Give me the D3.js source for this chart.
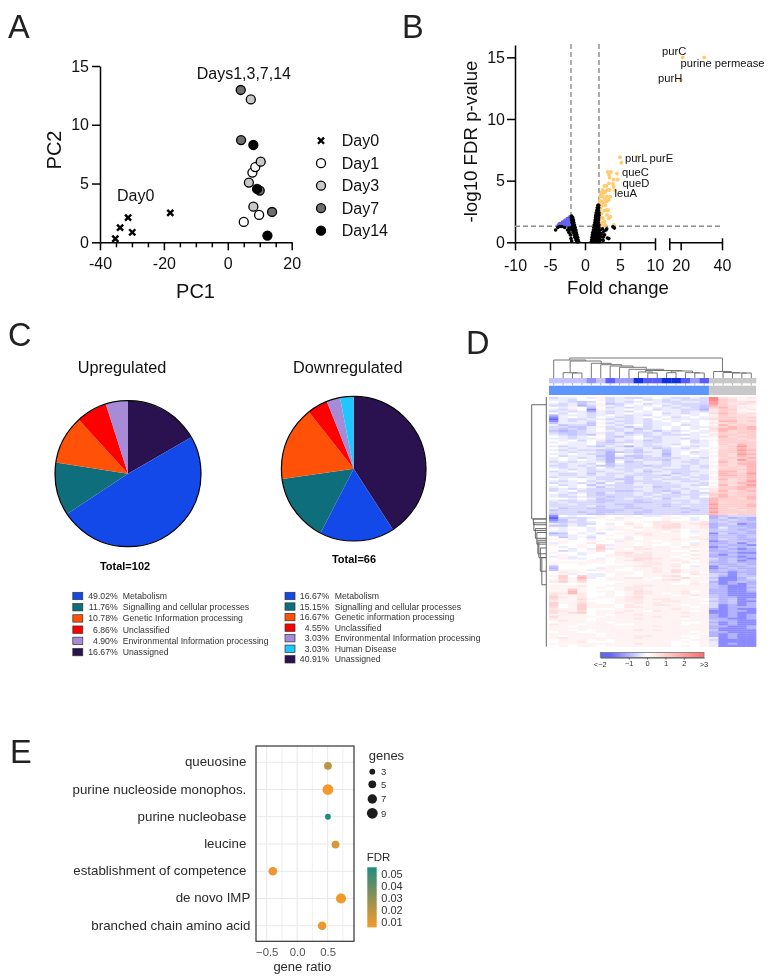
<!DOCTYPE html>
<html><head><meta charset="utf-8">
<script src="https://cdn.jsdelivr.net/npm/d3@7/dist/d3.min.js"></script>
<style>html,body{margin:0;padding:0;background:#fff}svg{display:block;filter:blur(.3px)}text{font-family:"Liberation Sans",Arial,sans-serif}</style>
</head><body><svg id="c" width="780" height="978"></svg>
<script>
// ---------- Panel A data
const pcaDays=["Day0","Day1","Day3","Day7","Day14"];
const pcaFill=[null,"#ffffff","#c8c8c8","#6e6e6e","#000000"];
const day0=[[-35.2,0.3],[-33.7,1.25],[-31.2,2.1],[-29.9,0.85],[-18,2.5]];
const day1=[[5.0,1.73],[9.8,2.33],[7.7,5.93],[8.6,6.4]];
const day3=[[7.2,12.16],[10.3,6.86],[6.6,5.08],[8,3.03]];
const day7=[[4.05,12.96],[4.15,8.7],[10,4.4],[13.85,2.58]];
const day14=[[8,8.28],[9.15,4.54],[12.4,0.57]];
// ---------- Panel B data
const volcanoBlack=[[.9,.05],[1.15,.05],[1.4,.05],[1.65,.05],[1.9,.05],[2.1,.05],[.95,.2],[1.2,.2],[1.45,.2],[1.7,.2],[1.95,.2],[1,.4],[1.25,.4],[1.5,.4],[1.75,.4],[2,.4],[1.05,.6],[1.3,.6],[1.55,.6],[1.8,.6],[2,.6],[1.1,.8],[1.35,.8],[1.6,.8],[1.85,.8],[2.05,.8],[1.2,1],[1.45,1],[1.7,1],[1.95,1],[1.25,1.2],[1.5,1.2],[1.75,1.2],[2,1.2],[1.3,1.4],[1.55,1.4],[1.8,1.4],[2,1.4],[1.4,1.6],[1.65,1.6],[1.9,1.6],[1.45,1.8],[1.7,1.8],[1.95,1.8],[1.5,2],[1.75,2],[1.95,2],[1.55,2.2],[1.8,2.2],[2,2.2],[1.6,2.4],[1.85,2.4],[2,2.4],[1.7,2.6],[1.9,2.6],[1.75,2.8],[1.95,2.8],[1.85,3],[1.95,3],
[2.2,.2],[2.6,.15],[2.6,.4],[3.2,.35],[3.4,.3],[2.4,.7],[2.7,.9],[3,1],[3.1,1.1],[2.5,1.1],[2.2,1],[2.8,.6],[2.3,.5],[4,1.25],[4.2,1.15],
[-.9,.05],[-1.05,.05],[-1.2,.05],[-1,.2],[-1.15,.2],[-1.3,.2],[-1.05,.4],[-1.25,.4],[-1.45,.4],[-1.15,.6],[-1.35,.6],[-1.55,.6],[-1.25,.8],[-1.45,.8],[-1.7,.8],[-1.3,1],[-1.55,1],[-1.8,1],[-2.2,1],[-1.4,1.2],[-1.65,1.2],[-1.95,1.2],[-2.3,1.15],[-1.5,1.4],[-1.75,1.4],[-1.6,1.6],[-1.85,1.6],[-1.65,1.8],[-1.9,1.8],[-1.75,2],[-1.95,2],[-1.9,2.12],
[-4.2,1],[-3.9,1.2],[-3.6,1.28],[-3.3,1.28],[-2.9,1.2],[-2.5,1],[-2.3,.8],[-2,.3],[-1.9,.1],[-2.1,.6]];
const volcanoBlue=[[-3.8,1.38],[-3.5,1.38],[-3.2,1.38],[-2.9,1.38],[-2.6,1.38],[-2.3,1.38],[-2.05,1.38],[-3.6,1.5],[-3.3,1.5],[-3,1.5],[-2.7,1.5],[-2.4,1.5],[-2.1,1.5],[-3.2,1.62],[-2.9,1.62],[-2.6,1.62],[-2.3,1.62],[-2.02,1.62],[-2.85,1.76],[-2.55,1.76],[-2.25,1.76],[-2.02,1.76],[-2.5,1.9],[-2.2,1.9],[-2.02,1.9],[-2.15,2.05]];
const volcanoOrange=[[3.24,5.7],[3.71,5.7],[3.43,5.46],[3.52,5.24],[4.57,5.57],[4.1,5.08],[4.67,5.08],[3.43,4.78],[4,4.73],[4.1,4.49],[2.76,4.57],[3.05,4.57],[2.48,4.24],[3.24,4.24],[3.52,4.24],[2.38,4.03],[2.76,4.03],[3.14,3.7],[3.62,3.7],[2.19,3.7],[2.57,3.7],[2.86,3.49],[3.38,3.43],[2.1,3.35],[2.38,3.3],[3.05,3.3],[2,3.11],[2.38,2.95],[3.14,2.62],[2.76,2.57],[2.38,2.35],[3.14,2.22],[2.57,1.95],[3.38,1.95],[2.38,1.59],[2.76,1.68],[3.62,2.08],[2.57,1.32],[2.9,1.41],[4.1,1.41],[4.3,4.2],[5,6.9],[5.2,6.46],[7.4,6.95],[2.9,4.1],[2.2,2.7],[2.6,3.2],[2.4,2],[2.2,1.5],[2.9,3],[3.3,2.6],[2.3,3.9]];
const volcanoOrangeFar=[[21,15],[31.4,15],[20.1,13.16]];
const volcanoLabels=[["purC",662,55],["purine permease",680.5,67],["purH",658,82],["purL",625,162],["purE",649.5,162],["queC",622,175.5],["queD",622.5,186.5],["leuA",614.5,197]];
// ---------- Panel C data
const pieCats=["Metabolism","Signalling and cellular processes","Genetic Information processing","Unclassified","Environmental Information processing","Human Disease","Unassigned"];
const pieColors=["#1249e8","#0f6e7c","#ff5208","#ff0000","#a78bd6","#1ec8ff","#2a1250"];
const upValues=[49.02,11.76,10.78,6.86,4.90,0,16.67];
const downValues=[16.67,15.15,16.67,4.55,3.03,3.03,40.91];
const downNames=["Metabolism","Signalling and cellular processes","Genetic information processing","Unclassified","Environmental Information processing","Human Disease","Unassigned"];
// ---------- Panel D data (a=-2 ... g=0 ... o=3)
const heatLevels={a:-2,b:-1.5,c:-1,d:-.75,e:-.5,f:-.25,g:0,h:.25,i:.5,j:.75,k:1,l:1.5,m:2,n:2.5,o:3};
const heatRows=[
"effgfhefeefgfeefe njihi","ffeggheffgefefeee nkjhh","gfedegefefgfeeffe mkjij","fefdfhdefgeffeeee mkiji","eefcehfegffgefeed lkjhh","gfhgdgefefgffefed kljih","fefgbhffgfgeffeec ikkhi","efefcfefegfgffefe ikjhg",
"gegfefefgffgefefg jlkij","cfffefgfefegffgfg hkjji","bfgfegfeefgfgefgf ikkjk","afeeffefefegfffff jkkjj","bfefegfeefefgfgfg hlljk","dfffdhefefeffgffg ijkjj","fdeedgfefgeffgefg hljkj","eeddfhefdfefgfgff iklkl",
"ededfgeefdefgfgfg jllkl","dcdefgfefefdfefgf iljkk","eddeffefdeefefgff hkjkk","fededhefefefeeefg ikkjk","gfefggedfgeeffgff hljkk","ffeffheffgfeffefg gkkjk","gfgegfdfefdeffgef hkkkj","fgffgedeefeeffgef gkkkk",
"ghffgeefgfeffegff gkjlk","feffedfecfeefgfef gjkmk","gfefffeffefdefefg hjklk","fefeeddfedffdffgf gkkml","gfeffecdedefdfgef hkklk","ffgfeecgfeffcfgff gkjml","gefffdcfddefdffgf hkjlk","fgfefecdedeeeeffe gjkkl",
"fgfgfecfefeedffef gkjmk","efefffcgdeffefeef hljkl","feffegdfeeffeffef gkjll","eefefddeeedeefefe hkjkl","feffegefeefeffefe hjkjl","gfefeffeefefeeeff gkkkl","efgfeeffefdefeeef hlljl","feefdfeefeeffdeff hlkkm",
"feefefefeeeedfefe gllkl","effefeefdfeefefee hkkkl","gfggfeeddfefeeefe hljkl","fefgefefdeeeffeef gkjkm","effefdgedfeeefffe hkjll","gefgdfeeeffeeefee gljkm","fgfgfdfeeefdeeffg hkkll","efefeeeeeffeefeff ikklk",
"efgeeeeddefedefeg iljkl","gfefedfeefeefdfee jkjkk","fefgedeeefefeeeef kljkk","feefeedeeefeeefeg jlkkl","ggfgfdeefeefdffee lkkjl","feefeddeedeeeeefe lkkkk","efeeedeeeddeefefe ljkkk","eefeeeeddeeedeeee mkkkl",
"eeeefdeedeeedefee lkkkl","fdeeddeeddeeeedee mkjkk","deeeedddeedeeeede lkkjk","eeededdeeddeeedee mkkkk","deeeddeeedeeeeeee lkjkk",
"bgfgghgghgffhghgg cdeee","aeeefhgfhhgghhgfg cecdc","bdfegghhgggghggfg ddedc","cdeefggghghiihhhi deddd","fefeegfgihgiijhij cdebc","ddfegghghhgijjhhi cddcc","hfggfghhgihijjhhi cfddc",
"gfhgfhfhhghhihghh dedcd","ffggfggghhhhgigfh ddddc","cdgfgeghhiihhhghh becdc","eefgfghghhihhhggh cddcd","gdfhegggfghhhhgih cddcd","hgfgfghhighhhihhi cedcc","ghgghhgfhhhghhhgh bcddc","fhggigghhghhghgfh ccdbd",
"hgghgjfhhghgghgih cdccb","gfghgkhhhihhhgihh bcdcd","ggfgfkfhgiihhhhgh cdcbc","gefghjghhhhhhggih ccdcc","hggfhggijhihhhhgh dccbb","ghgfgghiiiihhhgih cbdcc","fhfggghhiiihhghgh cccbc","ghffgfghhjjihhgih ecdcb",
"gggghhghijihhihgh dcdbc","hhhhhhghghiihgihh ccdcc","hgghgggghhiihiggh dccdc","dggggghhhiihhigfh bdccd","cggggfhhghhihhghh bcdcc","dhhgfhhgghhihjhhh cdcdc","gihhgghhhghihjhig ccbcc","ghfgffghhghhhhgih edbdc",
"hkgkffghgghhijggh ecbdd","gkhlfghhiihghhjhh dbbce","hjhkgghhhhghijghh ebbcd","ikhjgggghhhhhhghg cbcdc","ggggggghhhhhhggih dbcbc","hhhigghhhiihhhhhh dcbbd","hhhhghghiihhhhhhh dcbbc","hhkhggghiihhhhhhh ccbbd",
"hhlhghhghjihhhigh ccbbc","iiligghghjihghihh ccbbb","jhhigghghihhhghih dcbbb","kihighhhijhhhhhgh dccbb","jhhjhgghiihiihhhg ecdbc","ihhiggghiihhiihhh dcdbb","khhjhgghhihihhhhg ecdbc","kghkhhhgihhiihghh ebcbc",
"jghkhhhgiihhhhhgh ebccc","ihhkggghhhhhhihhh cbcbb","jihjghhhihgihhhgh bbccb","jhjkghhihhhhhhihh bbcbb","hhhhghghhihhhhhhh cbcbc","jhhhhghhhhhihhihh cbcbc","ihhhghhhhihhhhghh ccbbc","hihhghhhhhhhhhhhh dccbb",
"ghhhhhghhhhhhhggh cbcbb","ihhghhhgghhhhhghh dbcbb","hhghhhhhhhhihhhhh ccbbc","hhhhhhhhhhhhhhhhh cbbbc","hhghghhhhihihhhhh dbbbb","ghhgghhhhhhhhhhgh ccbbb","hhhhhghhhhhhhhhhg cbcbb","hghhhghhhiihhhggh cbcbb",
"hihhhhhhhihhhhhgh fbcbb","ghhhghghhhhhhhghh ebbbb","ghhiggghhhhhhghgh fbbbb","hhhhhhhhhihhhgggh fbcbb","ghghhghhhhhhhghgh fbbbb"
];
const annotLevels=[.3,.3,.3,.3,.55,.3,.8,.5,.5,1.4,.85,.85,1.4,1.4,.85,.5,.85];
const annotGroups=17;
const colMerges=[[2,3,5],[1,22,5.3],[10,11,5],[9,24,6],[12,13,5.3],[15,16,5],[14,27,5.3],[26,28,7],[25,29,7.5],[8,30,8.7],[7,31,10.7],[6,32,12],[5,33,13.3],[4,34,14.7],[23,35,17],[0,36,18],[20,21,5],[19,38,5],[18,39,5.5],[17,40,6.5],[37,41,20]];
const rowBrackets=[[14.7,4,63],[13,63,66],[12.5,65,69],[11,68,73],[9.5,70,76],[8.5,74,81],[7.5,75,83],[6,78,90],[4.5,83,97]];
const heatTickVals=[-1,0,1,2];
// ---------- Panel E data
const terms=["queuosine","purine nucleoside monophos.","purine nucleobase","leucine","establishment of competence","de novo IMP","branched chain amino acid"];
const geneRatio=[.505,.505,.505,.63,-.40,.72,.41];
const geneCount=[5,9,3,5,6,8,6];
const fdr=[.0176,.005,.05,.011,.007,.006,.007];
const termDotShift=[.13,0,0,.02,0,0,0];
const termLabelShift=[0,0,0,0,0,4,4];
const geneLegend=[3,5,7,9];
const geneLegendY=[771.7,784.3,799,813.3];
const fdrTicks=[.05,.04,.03,.02,.01];

const svg=d3.select("#c");
const ink="#111";
function T(x,y,s,fs,o={}){const t=svg.append("text").attr("x",x).attr("y",y).attr("font-size",fs).attr("fill",o.fill||ink).attr("text-anchor",o.a||"start").text(s);if(o.w)t.attr("font-weight",o.w);return t;}
[["A",8,38],["B",402,38],["C",8,346],["D",466,354],["E",10,763]].forEach(d=>T(d[1],d[2],d[0],32.5,{fill:"#222"}));

function styleAxis(g,sw,fs){g.select(".domain").attr("stroke","#000").attr("stroke-width",sw);g.selectAll(".tick line").attr("stroke","#000").attr("stroke-width",sw);g.selectAll("text").attr("font-size",fs).attr("fill",ink).attr("font-family","Liberation Sans");}

// ---- A
{
 const x=d3.scaleLinear().domain([-40,20]).range([100,291.7]);
 const y=d3.scaleLinear().domain([0,15]).range([242.3,66]);
 const gx=svg.append("g").attr("transform","translate(0,242.3)").call(d3.axisBottom(x).tickValues(d3.range(-40,21,5)).tickSize(6).tickSizeOuter(0).tickPadding(6).tickFormat(d=>d%20===0?d:""));
 styleAxis(gx,1.5,16);
 gx.selectAll(".tick line").attr("y2",d=>d%20===0?8:5);
 gx.selectAll("text").attr("dy","0.9em");
 const gy=svg.append("g").attr("transform","translate(100,0)").call(d3.axisLeft(y).tickValues([0,5,10,15]).tickSize(8).tickSizeOuter(0).tickPadding(3));
 styleAxis(gy,1.5,16);
 T(195.5,298,"PC1",20,{a:"middle"});
 svg.append("text").attr("transform","translate(61,150) rotate(-90)").attr("text-anchor","middle").attr("font-size",20).attr("fill",ink).text("PC2");
 T(196.7,79,"Days1,3,7,14",16);
 T(117,201,"Day0",16);
 const cross=d3.symbol().type(d3.symbolTimes).size(26);
 const drawX=(sel)=>sel.attr("d",cross).attr("fill","none").attr("stroke","#000").attr("stroke-width",2.4);
 svg.append("g").selectAll("path").data(day0).join("path").call(drawX).attr("transform",d=>`translate(${x(d[0])},${y(d[1])})`);
 [[day1,1],[day3,2],[day7,3],[day14,4]].forEach(([pts,i])=>{
  svg.append("g").selectAll("circle").data(pts).join("circle").attr("cx",d=>x(d[0])).attr("cy",d=>y(d[1])).attr("r",4.5).attr("fill",pcaFill[i]).attr("stroke","#000").attr("stroke-width",1.3);
 });
 const ly=d3.scalePoint().domain(pcaDays).range([140.7,230.7]);
 pcaDays.forEach((d,i)=>{
  if(i===0) svg.append("path").call(drawX).attr("transform",`translate(321,${ly(d)})`);
  else svg.append("circle").attr("cx",321).attr("cy",ly(d)).attr("r",4.5).attr("fill",pcaFill[i]).attr("stroke","#000").attr("stroke-width",1.3);
  T(341.7,ly(d)+5.5,d,16);
 });
}
// ---- B
{
 const x1=d3.scaleLinear().domain([-10,10]).range([515,655]);
 const x2=d3.scaleLinear().domain([14.5,40]).range([669.3,722]);
 const y=d3.scaleLinear().domain([0,16]).range([242.3,45]);
 const px=v=>v>10?x2(v):x1(v);
 const gx1=svg.append("g").attr("transform","translate(0,242.3)").call(d3.axisBottom(x1).tickValues([-10,-5,0,5,10]).tickSize(8).tickSizeOuter(0).tickPadding(6).tickFormat(d=>String(d)));
 styleAxis(gx1,1.5,16);gx1.selectAll("text").attr("dy","0.9em");
 const gx2=svg.append("g").attr("transform","translate(0,242.3)").call(d3.axisBottom(x2).tickValues([14.5,20,40]).tickSize(8).tickSizeOuter(0).tickPadding(6).tickFormat(d=>d===14.5?"":d));
 styleAxis(gx2,1.5,16);gx2.selectAll("text").attr("dy","0.9em");
 gx1.selectAll(".tick").filter(d=>d===10).select("line").attr("y1",-4);
 gx2.selectAll(".tick").filter(d=>d===14.5).select("line").attr("y1",-4);
 gx2.selectAll(".tick").filter(d=>d===40).select("line").attr("y1",-4);
 const gy=svg.append("g").attr("transform","translate(515,0)").call(d3.axisLeft(y).tickValues([0,5,10,15]).tickSize(8).tickSizeOuter(0).tickPadding(2));
 styleAxis(gy,1.5,16);
 const dash=(a,b,c,d)=>svg.append("line").attr("x1",a).attr("y1",b).attr("x2",c).attr("y2",d).attr("stroke","#8c8c8c").attr("stroke-width",1.4).attr("stroke-dasharray","5,3");
 dash(x1(-2),44,x1(-2),242);dash(x1(2),44,x1(2),242);dash(515,y(1.3),723,y(1.3));
 const dots=(arr,col,r)=>svg.append("g").selectAll("circle").data(arr).join("circle").attr("cx",d=>px(d[0])).attr("cy",d=>y(d[1])).attr("r",r).attr("fill",col);
 dots(volcanoOrange,"#ffcb6b",1.9);dots(volcanoOrangeFar,"#ffcb6b",1.9);
 dots(volcanoBlue,"#6464ee",2);dots(volcanoBlack,"#000",1.8);
 volcanoLabels.forEach(d=>T(d[1],d[2],d[0],11.2));
 T(618,294,"Fold change",18.5,{a:"middle"});
 svg.append("text").attr("transform","translate(477,141.5) rotate(-90)").attr("text-anchor","middle").attr("font-size",18.7).attr("fill",ink).text("-log10 FDR p-value");
}
// ---- C
function pieChart(vals,cx,cy,r){
 const pie=d3.pie().sort(null).value(d=>d.v);
 const order=[6,0,1,2,3,4,5].map(i=>({v:vals[i],c:pieColors[i]}));
 const arc=d3.arc().innerRadius(0).outerRadius(r);
 const g=svg.append("g").attr("transform",`translate(${cx},${cy})`);
 g.selectAll("path").data(pie(order)).join("path").attr("d",arc).attr("fill",d=>d.data.c);
 g.append("circle").attr("r",r).attr("fill","none").attr("stroke","#000").attr("stroke-width",1.2);
}
pieChart(upValues,128,473.7,73);
pieChart(downValues,353.7,468.7,72.3);
T(122,373,"Upregulated",16.3,{a:"middle"});
T(347.7,373,"Downregulated",16.3,{a:"middle"});
T(125,570,"Total=102",11,{a:"middle",w:"bold",fill:"#000"});
T(354,563,"Total=66",11,{a:"middle",w:"bold",fill:"#000"});
function pieLegend(vals,names,sx,pctX,nameX,y0,dy){
 let k=0;
 vals.forEach((v,i)=>{ if(!v) return;
  const yy=y0+dy*k++;
  svg.append("rect").attr("x",sx).attr("y",yy-3.7).attr("width",10).attr("height",7.4).attr("fill",pieColors[i]).attr("stroke","#333").attr("stroke-width",.7);
  T(pctX,yy+3,v.toFixed(2)+"%",8.7,{a:"end",fill:"#333"});
  T(nameX,yy+3,names[i],8.7,{fill:"#333"});
 });
}
pieLegend(upValues,pieCats,72.8,117.7,122.7,596,11.22);
pieLegend(downValues,downNames,285,329.3,334.7,596,10.55);
// ---- D
{
 const colsIdx=d3.range(22),rowsIdx=d3.range(heatRows.length);
 const x=d3.scaleBand().domain(colsIdx).range([549,756]);
 const y=d3.scaleBand().domain(rowsIdx).range([397,646.7]);
 const col=d3.scaleLinear().domain([-2,0,3]).range(["#6464ff","#ffffff","#ff6e6e"]).clamp(true);
 const cells=heatRows.flatMap((r,i)=>r.replace(" ","").split("").map((c,j)=>({i,j,v:heatLevels[c]})));
 svg.append("g").selectAll("rect").data(cells).join("rect").attr("x",d=>x(d.j)).attr("y",d=>y(d.i)).attr("width",x.bandwidth()+.3).attr("height",y.bandwidth()+.3).attr("fill",d=>col(d.v));
 // annotation bars
 const annCol=d3.scaleLinear().domain([0,.8,1.4]).range(["#ffffff","#6060ff","#1030dd"]);
 svg.append("g").selectAll("rect").data(colsIdx).join("rect").attr("x",d=>x(d)).attr("y",378).attr("width",x.bandwidth()+.3).attr("height",5.3).attr("fill",d=>d<annotGroups?annCol(annotLevels[d]):"#c8c8c8");
 svg.append("rect").attr("x",x(0)).attr("y",385.7).attr("width",x(annotGroups)-x(0)).attr("height",9.3).attr("fill","#5c95fb");
 svg.append("rect").attr("x",x(annotGroups)).attr("y",385.7).attr("width",756-x(annotGroups)).attr("height",9.3).attr("fill","#c8c8c8");
 // top dendrogram
 const hy=d3.scaleLinear().domain([0,20]).range([378,358]);
 const nodes=colsIdx.map(d=>({x:x(d)+x.bandwidth()/2,h:0}));
 const tp=d3.path();
 colMerges.forEach(m=>{const a=nodes[m[0]],b=nodes[m[1]];
  tp.moveTo(a.x,hy(a.h));tp.lineTo(a.x,hy(m[2]));tp.lineTo(b.x,hy(m[2]));tp.lineTo(b.x,hy(b.h));
  nodes.push({x:(a.x+b.x)/2,h:m[2]});});
 svg.append("path").attr("d",tp.toString()).attr("fill","none").attr("stroke","#777").attr("stroke-width",1);
 svg.append("g").selectAll("line").data(colsIdx).join("line").attr("x1",d=>x(d)+x.bandwidth()/2).attr("x2",d=>x(d)+x.bandwidth()/2).attr("y1",383).attr("y2",385.5).attr("stroke","#888").attr("stroke-width",.6);
 // row dendrogram
 const hx=d3.scaleLinear().domain([0,14.7]).range([546.3,531.7]);
 const ry=d3.scaleLinear().domain([0,heatRows.length]).range([397,646.7]);
 const rp=d3.path();
 rowBrackets.forEach(b=>{rp.moveTo(hx(0),ry(b[1]));rp.lineTo(hx(b[0]),ry(b[1]));rp.lineTo(hx(b[0]),ry(b[2]));rp.lineTo(hx(0),ry(b[2]));});
 rp.moveTo(hx(0),ry(0));rp.lineTo(hx(0),ry(heatRows.length));
 svg.append("path").attr("d",rp.toString()).attr("fill","none").attr("stroke","#666").attr("stroke-width",1);
 // colorbar
 const cb=d3.scaleLinear().domain([-2.55,3.1]).range([600.3,704]);
 const defs=svg.append("defs");
 const lg=defs.append("linearGradient").attr("id","hg");
 [-2.55,-2,0,3,3.1].forEach(v=>lg.append("stop").attr("offset",(cb(v)-600.3)/(704-600.3)).attr("stop-color",col(v)));
 svg.append("rect").attr("x",600.3).attr("y",652.5).attr("width",103.7).attr("height",5).attr("fill","url(#hg)").attr("stroke","#777").attr("stroke-width",.8);
 const gc=svg.append("g").attr("transform","translate(0,657.5)").call(d3.axisBottom(cb).tickValues(heatTickVals).tickSize(2).tickSizeOuter(0).tickPadding(1).tickFormat(d=>d<0?"\u2212"+(-d):d));
 gc.select(".domain").attr("stroke","#555");gc.selectAll("line").attr("stroke","#555");gc.selectAll("text").attr("font-size",7.5).attr("fill","#333").attr("font-family","Liberation Sans");
 T(600.3,667,"<\u22122",7.5,{a:"middle",fill:"#333"});
 T(704,667,">3",7.5,{a:"middle",fill:"#333"});
}
// ---- E
{
 const bx0=256,bx1=354,by0=746,by1=941.3;
 const x=d3.scaleLinear().domain([-.5,.5]).range([266.7,327.6]);
 const y=d3.scalePoint().domain(terms).range([762.3,925.7]);
 const step=y.step();
 const grid=svg.append("g");
 grid.selectAll(".v").data([-.5,-.25,0,.25,.5,.75]).join("line").attr("x1",d=>x(d)).attr("x2",d=>x(d)).attr("y1",by0).attr("y2",by1).attr("stroke","#e9e9e9").attr("stroke-width",d=>Math.abs(d*2%1)<.01?1.1:.7);
 grid.selectAll(".h").data(terms).join("line").attr("x1",bx0).attr("x2",bx1).attr("y1",d=>y(d)).attr("y2",d=>y(d)).attr("stroke","#e9e9e9").attr("stroke-width",1.1);
 const col=d3.scaleLinear().domain([.05,.005]).range(["#1f8a80","#f7992a"]).clamp(true);
 const rad=d3.scaleSqrt().domain([3,9]).range([2.9,5.4]);
 svg.append("g").selectAll("circle").data(terms).join("circle").attr("cx",(d,i)=>x(geneRatio[i])).attr("cy",(d,i)=>y(d)+termDotShift[i]*step).attr("r",(d,i)=>rad(geneCount[i])).attr("fill",(d,i)=>col(fdr[i]));
 svg.append("rect").attr("x",bx0).attr("y",by0).attr("width",bx1-bx0).attr("height",by1-by0).attr("fill","none").attr("stroke","#333").attr("stroke-width",1.2);
 terms.forEach((t,i)=>T(246.3+termLabelShift[i],y(t)+4,t,13.3,{a:"end",fill:"#2a2a2a"}));
 const gx=svg.append("g").attr("transform",`translate(0,${by1})`).call(d3.axisBottom(x).tickValues([-.5,0,.5]).tickSize(0).tickPadding(7).tickFormat(d=>d<0?"\u2212"+(-d).toFixed(1):d.toFixed(1)));
 gx.select(".domain").remove();gx.selectAll("text").attr("font-size",11.3).attr("fill","#555").attr("font-family","Liberation Sans");
 T(302.3,970.7,"gene ratio",13,{a:"middle",fill:"#2a2a2a"});
 T(368.7,760,"genes",13,{fill:"#2a2a2a"});
 geneLegend.forEach((g,i)=>{svg.append("circle").attr("cx",372.3).attr("cy",geneLegendY[i]).attr("r",rad(g)).attr("fill","#1c1c1c");T(381,geneLegendY[i]+3.3,g,9.5,{fill:"#333"});});
 T(366.7,861,"FDR",11.5,{fill:"#2a2a2a"});
 const defs=svg.append("defs");
 const lg=defs.append("linearGradient").attr("id","fg").attr("x1",0).attr("x2",0).attr("y1",0).attr("y2",1);
 lg.append("stop").attr("offset",0).attr("stop-color","#1f8a80");lg.append("stop").attr("offset",1).attr("stop-color","#f7992a");
 svg.append("rect").attr("x",367.3).attr("y",867.3).attr("width",9.4).attr("height",60).attr("fill","url(#fg)");
 const fy=d3.scaleLinear().domain([.05,.01]).range([873.5,921.7]);
 fdrTicks.forEach(v=>T(381.3,fy(v)+4,v.toFixed(2),11,{fill:"#333"}));
}
</script></body></html>
